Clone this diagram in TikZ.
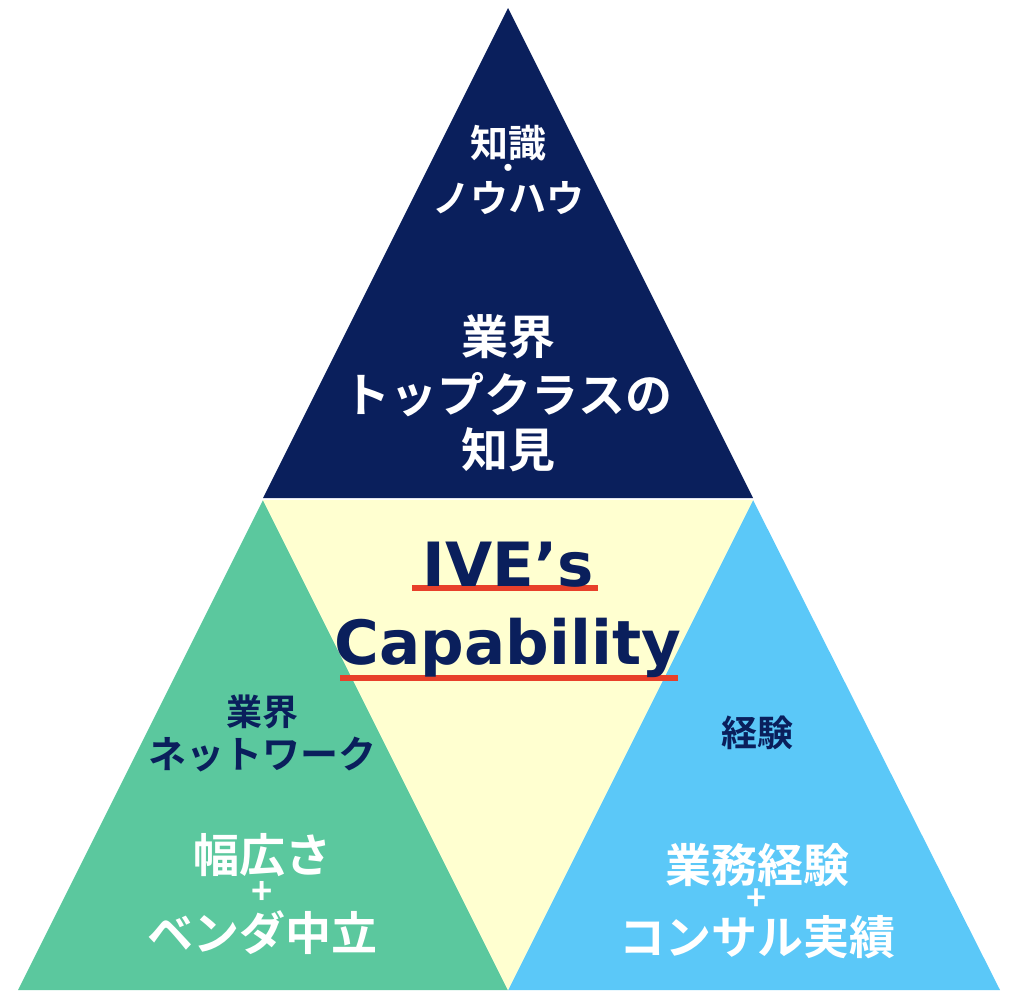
\documentclass[tikz,border=0pt]{standalone}
\usepackage{fontspec}
\newfontfamily\jp{Noto Sans CJK JP}[BoldFont={Noto Sans CJK JP Bold}]
\newfontfamily\lat{DejaVu Sans}
\definecolor{navy}{HTML}{0A1F5C}
\definecolor{grn}{HTML}{5BC89E}
\definecolor{sky}{HTML}{5BC8F8}
\definecolor{ylw}{HTML}{FFFFD0}
\definecolor{redl}{HTML}{E8402A}
\begin{document}
\begin{tikzpicture}[x=1pt,y=-1pt,
 jt/.style={font=\jp\bfseries\fontsize{#1}{#1}\selectfont,inner sep=0pt},
 lt/.style={font=\lat\bfseries\fontsize{#1}{#1}\selectfont,inner sep=0pt,text=navy}]
\useasboundingbox (0,0) rectangle (1016,1002);
\fill[navy] (508,8) -- (753,498) -- (263,498) -- cycle;
\fill[grn] (263,500) -- (508,990) -- (18,990) -- cycle;
\fill[sky] (753,500) -- (1000,990) -- (508,990) -- cycle;
\fill[ylw] (263,500) -- (753,500) -- (508,990) -- cycle;
\node[jt=38,white] (a1) at (508,143) {知識};
\node[jt=28,white] (a2) at (508,171) {・};
\node[jt=38,white] (a3) at (508,198) {ノウハウ};
\node[jt=47,white] (b1) at (508,337) {業界};
\node[jt=47,white] (b2) at (508,395) {トップクラスの};
\node[jt=47,white] (b3) at (508,450) {知見};
\fill[redl] (412,585) rectangle (598,591);
\fill[redl] (340,675) rectangle (678,681);
\node[lt=61] (t1) at (508,565) {IVE’s};
\node[lt=61] (t2) at (508,648) {Capability};
\node[jt=36,navy] (c1) at (262,712) {業界};
\node[jt=38,navy] (c2) at (262,755) {ネットワーク};
\node[jt=46,white] (d1) at (262,855) {幅広さ};
\node[jt=36,white] (d2) at (262,893) {+};
\node[jt=46,white] (d3) at (262,933) {ベンダ中立};
\node[jt=36,navy] (e1) at (757,733) {経験};
\node[jt=34,white] (f2) at (757,900) {+};
\node[jt=46,white] (f1) at (757,865) {業務経験};
\node[jt=46,white] (f3) at (757,937) {コンサル実績};
\end{tikzpicture}
\end{document}
